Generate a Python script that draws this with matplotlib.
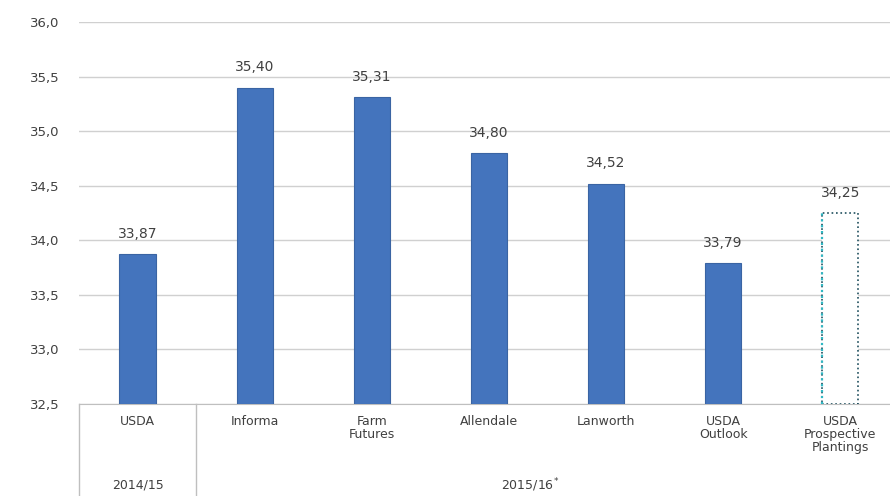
import numpy as np
import matplotlib.pyplot as plt
import matplotlib.transforms as mtransforms

# data
categories = ['USDA', 'Informa', 'Farm\nFutures', 'Allendale', 'Lanworth',
              'USDA\nOutlook', 'USDA\nProspective\nPlantings']
values = [33.87, 35.40, 35.31, 34.80, 34.52, 33.79, 34.25]
labels = ['33,87', '35,40', '35,31', '34,80', '34,52', '33,79', '34,25']
groups = ['2014/15', '2015/16$^{*}$']
group_sizes = [1, 6]
yticks = [32.5, 33.0, 33.5, 34.0, 34.5, 35.0, 35.5, 36.0]

txt = '#404040'
blue = '#4474bd'

fig = plt.figure(figsize=(8.9, 4.96), dpi=100)
ax = fig.add_axes([0.0888, 0.1855, 0.921, 0.770])

x = np.arange(len(categories))
solid = x < len(categories) - 1
ax.bar(x[solid], np.array(values)[solid] - 32.5, bottom=32.5, width=0.31,
       color=blue, edgecolor='#3a64a3', linewidth=0.8, zorder=3)
pb = ax.bar(x[~solid], np.array(values)[~solid] - 32.5, bottom=32.5, width=0.31,
            color='white', edgecolor='#1f4f5e', linewidth=1.2, linestyle=':', zorder=3)
# left edge of the projected bar is drawn in cyan
for p in pb.patches:
    ax.plot([p.get_x(), p.get_x()], [p.get_y(), p.get_y() + p.get_height()],
            color='#30b8c4', lw=1.6, ls=':', zorder=4)

for xi, v, s in zip(x, values, labels):
    ax.text(xi, v + 0.12, s, ha='center', va='bottom', fontsize=10, color=txt)

ax.set_xlim(-0.5, len(categories) - 0.5)
ax.set_ylim(32.5, 36.0)
ax.set_yticks(yticks)
ax.set_yticklabels([('%.1f' % t).replace('.', ',') for t in yticks], fontsize=9.5, color=txt)
ax.tick_params(axis='y', length=0, pad=14)
ax.set_xticks([])
ax.grid(axis='y', color='#d0d0d0', linewidth=1, zorder=0)
for s in ['left', 'right', 'top']:
    ax.spines[s].set_visible(False)
ax.spines['bottom'].set_color('#bfbfbf')

trans = mtransforms.blended_transform_factory(ax.transData, ax.transAxes)
for xi, c in zip(x, categories):
    ax.text(xi, -0.03, c, ha='center', va='top', fontsize=9, color=txt,
            transform=trans, linespacing=1.0)

# group labels and separators
start = -0.5
ax.plot([start, start], [0, -0.25], color='#bfbfbf', lw=1, transform=trans, clip_on=False)
for g, n in zip(groups, group_sizes):
    end = start + n
    ax.plot([end, end], [0, -0.25], color='#bfbfbf', lw=1, transform=trans, clip_on=False)
    mid = (start + end) / 2 if n == 1 else 3.35
    ax.text(mid, -0.213, g, ha='center', va='center', fontsize=9, color=txt, transform=trans)
    start = end

fig.savefig('out.png', dpi=100)
